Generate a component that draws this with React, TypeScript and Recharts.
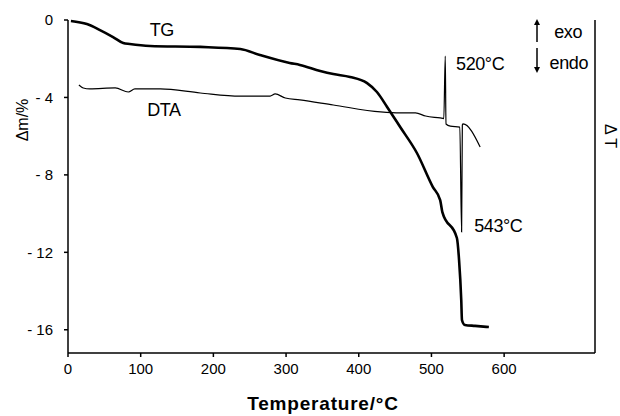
import { LineChart, Line, XAxis, YAxis, ReferenceDot } from "recharts";

// TG curve (mass change, %)
const tgTemp = [4, 26, 44, 62, 76, 85, 113, 182, 237, 264, 305, 319, 347, 365, 388, 411, 425, 439, 457, 480, 502, 512, 515, 535, 538, 541, 542, 546, 560, 579];
const tgMass = [-0.05, -0.21, -0.52, -0.88, -1.19, -1.24, -1.34, -1.39, -1.5, -1.81, -2.22, -2.32, -2.63, -2.79, -2.94, -3.25, -3.72, -4.49, -5.53, -6.87, -8.63, -9.3, -9.92, -11.26, -12.4, -14.46, -15.5, -15.75, -15.8, -15.86];

// DTA curve (arbitrary ΔT, drawn on the right axis)
const dtaTemp = [15, 21, 30, 65, 83, 92, 127, 182, 237, 278, 285, 299, 319, 365, 430, 457, 478, 492, 512, 517, 519, 520, 526, 539, 541.5, 542.5, 543.5, 567];
const dtaSignal = [-3.36, -3.51, -3.56, -3.51, -3.72, -3.56, -3.56, -3.77, -3.93, -3.93, -3.82, -4.03, -4.13, -4.39, -4.75, -4.8, -4.8, -4.96, -5.06, -5.09, -1.86, -5.37, -5.48, -5.53, -10.95, -5.42, -5.37, -6.56];

const xTicks = [0, 100, 200, 300, 400, 500, 600];
const yTicks = [0, -4, -8, -12, -16];

const tgData = tgTemp.map((t, i) => ({ t, v: tgMass[i] }));
const dtaData = dtaTemp.map((t, i) => ({ t, v: dtaSignal[i] }));

const FONT = "'Liberation Sans', Arial, sans-serif";
const Y_DOMAIN: [number, number] = [-17.2, 0];

function formatYTick(value: number): string {
	if (value === 0) {
		return "0";
	}
	return `- ${Math.abs(value)}`;
}

const noteStyle = { fill: "#000", fontSize: 18, fontFamily: FONT, letterSpacing: -0.4 };

function YTitle({ viewBox }: any) {
	const x = viewBox.x + 22;
	const y = viewBox.y + 100;
	return (
		<text x={x} y={y} transform={`rotate(-90 ${x} ${y})`} textAnchor="middle" dominantBaseline="central" fontSize={16} fontFamily={FONT} fill="#000">
			Δm/%
		</text>
	);
}

function RightTitle({ viewBox }: any) {
	const x = viewBox.x + 15;
	const y = viewBox.y + 116;
	return (
		<text x={x} y={y} transform={`rotate(90 ${x} ${y})`} textAnchor="middle" dominantBaseline="central" fontSize={16} fontFamily={FONT} fill="#000">
			Δ T
		</text>
	);
}

function XTitle({ viewBox }: any) {
	return (
		<text x={viewBox.x + 255} y={viewBox.y + 57} textAnchor="middle" fontSize={19} fontWeight="bold" letterSpacing={0.8} fontFamily={FONT} fill="#000">
			Temperature/°C
		</text>
	);
}

export default function App() {
	return (
		<div style={{ position: "absolute", left: 0, top: 0, width: 620, height: 416, background: "#fff" }}>
			<LineChart width={620} height={416} margin={{ top: 20, right: 0, bottom: 0, left: 0 }}>
				<XAxis
					dataKey="t"
					type="number"
					domain={[0, 725]}
					ticks={xTicks}
					height={63}
					stroke="#000"
					strokeWidth={1.5}
					tickSize={4}
					tickMargin={6}
					tick={{ fill: "#000", fontSize: 15, fontFamily: FONT }}
					label={<XTitle />}
				/>
				<YAxis
					yAxisId="left"
					type="number"
					domain={Y_DOMAIN}
					ticks={yTicks}
					width={68}
					stroke="#000"
					strokeWidth={1.5}
					tickSize={4}
					tickMargin={11}
					tickFormatter={formatYTick}
					tick={{ fill: "#000", fontSize: 15, fontFamily: FONT }}
					label={<YTitle />}
				/>
				<YAxis
					yAxisId="right"
					orientation="right"
					type="number"
					domain={Y_DOMAIN}
					width={25}
					stroke="#000"
					strokeWidth={1.5}
					tick={false}
					tickLine={false}
					label={<RightTitle />}
				/>
				<Line yAxisId="left" type="monotone" data={tgData} dataKey="v" stroke="#000" strokeWidth={2.6} dot={false} isAnimationActive={false} />
				<Line yAxisId="right" type="monotone" data={dtaData} dataKey="v" stroke="#000" strokeWidth={1.2} dot={false} isAnimationActive={false} />

				<ReferenceDot yAxisId="left" x={129} y={-0.52} r={0} stroke="none" label={{ value: "TG", position: "center", ...noteStyle }} />
				<ReferenceDot yAxisId="left" x={132} y={-4.65} r={0} stroke="none" label={{ value: "DTA", position: "center", ...noteStyle }} />
				<ReferenceDot yAxisId="left" x={567} y={-2.25} r={0} stroke="none" label={{ value: "520°C", position: "center", ...noteStyle }} />
				<ReferenceDot yAxisId="left" x={592} y={-10.6} r={0} stroke="none" label={{ value: "543°C", position: "center", ...noteStyle }} />
				<ReferenceDot yAxisId="left" x={688} y={-0.62} r={0} stroke="none" label={{ value: "exo", position: "center", ...noteStyle }} />
				<ReferenceDot yAxisId="left" x={689} y={-2.22} r={0} stroke="none" label={{ value: "endo", position: "center", ...noteStyle }} />
			</LineChart>
			<svg width={620} height={416} style={{ position: "absolute", left: 0, top: 0, pointerEvents: "none" }}>
				<line x1={537} y1={42} x2={537} y2={23} stroke="#000" strokeWidth={1.5} />
				<polygon points="534,25 540,25 537,19" fill="#000" />
				<line x1={537} y1={48} x2={537} y2={69} stroke="#000" strokeWidth={1.5} />
				<polygon points="534,67 540,67 537,73" fill="#000" />
			</svg>
		</div>
	);
}
